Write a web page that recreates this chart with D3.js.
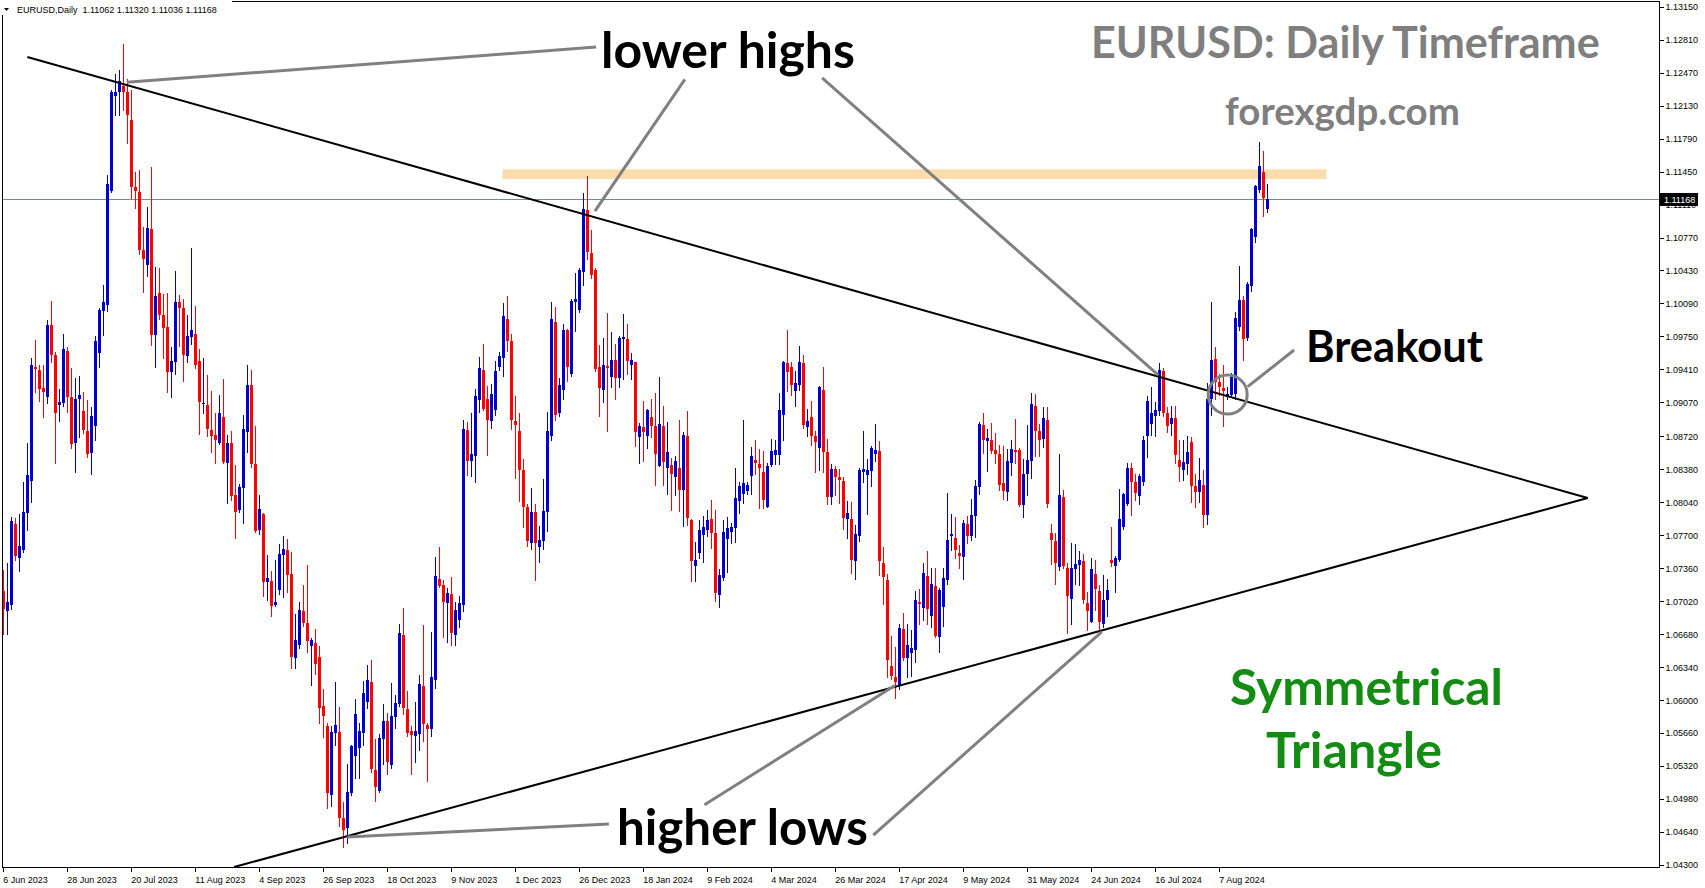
<!DOCTYPE html>
<html><head><meta charset="utf-8">
<script src="https://d3js.org/d3.v7.min.js"></script>
<style>html,body{margin:0;padding:0;background:#fff;overflow:hidden}</style>
</head><body>
<svg id="chart" width="1705" height="888"></svg>
<script>
// ---------------- DATA (EURUSD daily) ----------------
const opens = [
1.0713,1.0692,1.0698,1.0782,1.0747,1.0755,1.0793,1.0826,1.0944,1.0940,
1.0922,1.0913,1.0987,1.0956,1.0904,1.0906,1.0960,1.0913,1.0865,1.0911,
1.0898,1.0878,1.0855,1.0883,1.0958,1.1001,1.1007,1.1125,1.1223,1.1227,
1.1233,1.1227,1.1198,1.1129,1.1124,1.1064,1.1049,1.1086,1.0977,1.1020,
1.0997,1.0985,1.0938,1.0949,1.1011,1.1004,1.0955,1.0974,1.0978,1.0950,
1.0905,1.0904,1.0879,1.0873,1.0865,1.0892,1.0845,1.0865,1.0811,1.0796,
1.0819,1.0876,1.0925,1.0843,1.0775,1.0792,1.0722,1.0723,1.0698,1.0714,
1.0750,1.0755,1.0730,1.0643,1.0657,1.0692,1.0680,1.0656,1.0659,1.0644,
1.0594,1.0573,1.0502,1.0566,1.0567,1.0478,1.0468,1.0504,1.0542,1.0551,
1.0566,1.0598,1.0619,1.0528,1.0506,1.0560,1.0578,1.0533,1.0583,1.0596,
1.0667,1.0591,1.0568,1.0563,1.0565,1.0615,1.0574,1.0570,1.0621,1.0725,
1.0719,1.0700,1.0709,1.0667,1.0683,1.0698,1.0879,1.0847,1.0852,1.0909,
1.0940,1.0911,1.0888,1.0899,1.0943,1.0953,1.0993,1.0970,1.0888,1.0877,
1.0837,1.0799,1.0762,1.0794,1.0758,1.0764,1.0794,1.0872,1.0990,1.0896,
1.0920,1.0982,1.0936,1.1011,1.1002,1.1041,1.1105,1.1061,1.1044,1.0943,
1.0920,1.0945,1.0933,1.0951,1.0932,1.0972,1.0972,1.0946,1.0949,1.0871,
1.0882,1.0872,1.0892,1.0883,1.0841,1.0883,1.0839,1.0842,1.0830,1.0839,
1.0817,1.0872,1.0786,1.0738,1.0752,1.0770,1.0775,1.0787,1.0772,1.0708,
1.0726,1.0766,1.0773,1.0777,1.0805,1.0813,1.0816,1.0831,1.0848,1.0843,
1.0835,1.0799,1.0842,1.0853,1.0853,1.0894,1.0948,1.0944,1.0919,1.0925,
1.0948,1.0882,1.0892,1.0872,1.0860,1.0920,1.0856,1.0809,1.0838,1.0830,
1.0826,1.0787,1.0787,1.0743,1.0769,1.0835,1.0832,1.0836,1.0854,1.0857,
1.0741,1.0724,1.0635,1.0624,1.0616,1.0673,1.0643,1.0649,1.0652,1.0701,
1.0695,1.0728,1.0687,1.0718,1.0665,1.0696,1.0724,1.0769,1.0767,1.0752,
1.0748,1.0782,1.0769,1.0790,1.0820,1.0884,1.0867,1.0868,1.0858,1.0854,
1.0824,1.0815,1.0845,1.0858,1.0858,1.0801,1.0833,1.0847,1.0903,1.0878,
1.0869,1.0889,1.0772,1.0764,1.0737,1.0809,1.0736,1.0704,1.0735,1.0739,
1.0743,1.0700,1.0681,1.0730,1.0713,1.0678,1.0703,1.0745,1.0738,1.0745,
1.0778,1.0802,1.0839,1.0825,1.0810,1.0825,1.0872,1.0885,1.0893,1.0898,
1.0939,1.0896,1.0885,1.0891,1.0848,1.0837,1.0843,1.0866,1.0821,1.0815,
1.0822,1.0791,1.0911,1.0952,1.0928,1.0922,1.0914,1.0915,1.0916,1.0985,
1.1013,1.0973,1.1027,1.1078,1.1126,1.1145,1.11062];
const highs = [
1.0734,1.0741,1.0789,1.0788,1.0792,1.0825,1.0865,1.0953,1.0971,1.0946,
1.0946,1.0992,1.1012,1.0959,1.0921,1.0978,1.0964,1.0942,1.0932,1.0934,
1.0918,1.0909,1.0902,1.0975,1.1004,1.1028,1.1141,1.1229,1.1246,1.1250,
1.1277,1.1240,1.1229,1.1145,1.1147,1.1088,1.1108,1.1150,1.1047,1.1046,
1.1019,1.1020,1.0964,1.1042,1.1018,1.1014,1.0997,1.1066,1.1006,1.0962,
1.0953,1.0935,1.0919,1.0896,1.0915,1.0931,1.0873,1.0878,1.0842,1.0823,
1.0894,1.0946,1.0940,1.0883,1.0811,1.0793,1.0750,1.0733,1.0745,1.0761,
1.0769,1.0766,1.0753,1.0689,1.0701,1.0719,1.0739,1.0664,1.0673,1.0656,
1.0611,1.0576,1.0573,1.0619,1.0593,1.0495,1.0534,1.0554,1.0601,1.0576,
1.0620,1.0636,1.0641,1.0560,1.0565,1.0596,1.0587,1.0618,1.0605,1.0679,
1.0695,1.0609,1.0573,1.0598,1.0626,1.0677,1.0576,1.0670,1.0748,1.0758,
1.0724,1.0716,1.0727,1.0701,1.0707,1.0889,1.0887,1.0896,1.0921,1.0954,
1.0967,1.0924,1.0926,1.0950,1.0959,1.1009,1.1017,1.0978,1.0914,1.0896,
1.0849,1.0802,1.0819,1.0802,1.0780,1.0828,1.0897,1.1010,1.1005,1.0932,
1.0988,1.0983,1.1014,1.1040,1.1046,1.1123,1.1140,1.1085,1.1046,1.0966,
1.0973,1.0999,1.0980,1.0967,1.0975,1.0998,1.0988,1.0958,1.0949,1.0886,
1.0908,1.0900,1.0911,1.0917,1.0933,1.0903,1.0887,1.0850,1.0852,1.0889,
1.0876,1.0898,1.0787,1.0763,1.0786,1.0790,1.0796,1.0806,1.0796,1.0735,
1.0786,1.0789,1.0783,1.0839,1.0825,1.0889,1.0825,1.0861,1.0868,1.0859,
1.0857,1.0845,1.0869,1.0868,1.0917,1.0950,1.0982,1.0949,1.0939,1.0965,
1.0956,1.0900,1.0908,1.0878,1.0924,1.0943,1.0869,1.0843,1.0841,1.0838,
1.0830,1.0805,1.0804,1.0781,1.0839,1.0877,1.0849,1.0862,1.0885,1.0867,
1.0758,1.0730,1.0666,1.0655,1.0679,1.0690,1.0679,1.0672,1.0713,1.0715,
1.0741,1.0754,1.0736,1.0736,1.0716,1.0736,1.0814,1.0792,1.0789,1.0760,
1.0786,1.0790,1.0807,1.0827,1.0887,1.0896,1.0880,1.0886,1.0875,1.0863,
1.0862,1.0859,1.0868,1.0890,1.0860,1.0849,1.0884,1.0917,1.0916,1.0885,
1.0902,1.0902,1.0782,1.0772,1.0854,1.0817,1.0741,1.0762,1.0761,1.0754,
1.0751,1.0711,1.0747,1.0745,1.0719,1.0729,1.0725,1.0778,1.0749,1.0818,
1.0814,1.0845,1.0845,1.0833,1.0833,1.0872,1.0914,1.0923,1.0907,1.0948,
1.0942,1.0902,1.0903,1.0903,1.0868,1.0868,1.0872,1.0871,1.0833,1.0850,
1.0837,1.0927,1.1010,1.0964,1.0936,1.0946,1.0923,1.0937,1.1000,1.1048,
1.1017,1.1031,1.1087,1.1131,1.1175,1.1166,1.11320];
const lows = [
1.0668,1.0668,1.0694,1.0745,1.0733,1.0753,1.0775,1.0804,1.0918,1.0908,
1.0892,1.0906,1.0949,1.0845,1.0888,1.0903,1.0897,1.0860,1.0835,1.0871,
1.0875,1.0851,1.0833,1.0868,1.0944,1.0977,1.1001,1.1124,1.1203,1.1203,
1.1209,1.1174,1.1118,1.1107,1.1060,1.1021,1.1037,1.0966,1.0944,1.0993,
1.0953,1.0918,1.0913,1.0936,1.0965,1.0929,1.0949,1.0967,1.0942,1.0874,
1.0896,1.0872,1.0856,1.0845,1.0864,1.0844,1.0803,1.0806,1.0767,1.0794,
1.0783,1.0856,1.0840,1.0773,1.0771,1.0707,1.0703,1.0687,1.0697,1.0709,
1.0706,1.0712,1.0633,1.0633,1.0654,1.0676,1.0650,1.0616,1.0627,1.0576,
1.0562,1.0489,1.0491,1.0554,1.0470,1.0449,1.0453,1.0502,1.0520,1.0520,
1.0554,1.0592,1.0526,1.0496,1.0505,1.0534,1.0524,1.0530,1.0571,1.0594,
1.0586,1.0563,1.0524,1.0536,1.0549,1.0558,1.0517,1.0563,1.0613,1.0717,
1.0665,1.0660,1.0657,1.0657,1.0675,1.0692,1.0832,1.0831,1.0825,1.0897,
1.0899,1.0853,1.0881,1.0894,1.0940,1.0934,1.0960,1.0880,1.0829,1.0805,
1.0779,1.0759,1.0756,1.0724,1.0742,1.0756,1.0774,1.0868,1.0889,1.0893,
1.0911,1.0929,1.0934,1.0981,1.1000,1.1028,1.1055,1.1035,1.0939,1.0893,
1.0907,1.0877,1.0923,1.0911,1.0923,1.0931,1.0936,1.0931,1.0862,1.0845,
1.0847,1.0860,1.0871,1.0822,1.0841,1.0822,1.0813,1.0796,1.0811,1.0795,
1.0780,1.0781,1.0723,1.0723,1.0747,1.0742,1.0769,1.0757,1.0702,1.0696,
1.0724,1.0732,1.0762,1.0763,1.0793,1.0803,1.0813,1.0813,1.0833,1.0798,
1.0798,1.0799,1.0841,1.0843,1.0843,1.0868,1.0919,1.0915,1.0903,1.0920,
1.0881,1.0872,1.0863,1.0835,1.0837,1.0835,1.0802,1.0802,1.0811,1.0803,
1.0776,1.0767,1.0731,1.0725,1.0764,1.0825,1.0792,1.0821,1.0847,1.0729,
1.0699,1.0624,1.0622,1.0602,1.0611,1.0641,1.0624,1.0625,1.0639,1.0679,
1.0683,1.0679,1.0675,1.0665,1.0650,1.0676,1.0720,1.0755,1.0747,1.0736,
1.0725,1.0762,1.0765,1.0768,1.0813,1.0855,1.0836,1.0855,1.0844,1.0817,
1.0807,1.0806,1.0832,1.0844,1.0800,1.0789,1.0811,1.0829,1.0852,1.0852,
1.0861,1.0799,1.0740,1.0720,1.0734,1.0736,1.0669,1.0679,1.0720,1.0719,
1.0700,1.0672,1.0681,1.0693,1.0672,1.0675,1.0687,1.0738,1.0711,1.0743,
1.0776,1.0801,1.0791,1.0806,1.0802,1.0822,1.0851,1.0873,1.0872,1.0894,
1.0893,1.0876,1.0873,1.0844,1.0826,1.0827,1.0833,1.0804,1.0799,1.0804,
1.0778,1.0782,1.0894,1.0911,1.0915,1.0883,1.0910,1.0913,1.0911,1.0982,
1.0951,1.0971,1.1022,1.1072,1.1124,1.1099,1.11036];
const closes = [
1.0694,1.0701,1.0785,1.0749,1.0759,1.0794,1.0832,1.0946,1.0941,1.0921,
1.0918,1.0987,1.0956,1.0896,1.0907,1.0962,1.0913,1.0864,1.0911,1.0915,
1.0879,1.0854,1.0893,1.0970,1.1002,1.1010,1.1132,1.1227,1.1227,1.1238,
1.1227,1.1203,1.1129,1.1125,1.1064,1.1055,1.1087,1.0977,1.1017,1.0997,
1.0984,1.0938,1.0950,1.1011,1.1004,1.0956,1.0975,1.0982,1.0946,1.0907,
1.0906,1.0880,1.0872,1.0868,1.0896,1.0846,1.0865,1.0810,1.0794,1.0820,
1.0880,1.0925,1.0843,1.0774,1.0797,1.0722,1.0726,1.0697,1.0701,1.0751,
1.0756,1.0729,1.0644,1.0662,1.0693,1.0680,1.0661,1.0662,1.0637,1.0592,
1.0584,1.0504,1.0567,1.0574,1.0478,1.0466,1.0505,1.0553,1.0586,1.0568,
1.0607,1.0621,1.0529,1.0510,1.0561,1.0578,1.0536,1.0584,1.0597,1.0669,
1.0592,1.0566,1.0564,1.0568,1.0617,1.0575,1.0570,1.0624,1.0728,1.0718,
1.0701,1.0710,1.0669,1.0693,1.0700,1.0880,1.0847,1.0854,1.0914,1.0942,
1.0900,1.0889,1.0916,1.0939,1.0955,1.0996,1.0970,1.0889,1.0884,1.0837,
1.0799,1.0764,1.0794,1.0762,1.0765,1.0795,1.0877,1.0993,1.0894,1.0925,
1.0982,1.0943,1.1012,1.1014,1.1043,1.1106,1.1062,1.1038,1.0941,1.0922,
1.0946,1.0942,1.0951,1.0932,1.0973,1.0974,1.0950,1.0951,1.0876,1.0883,
1.0876,1.0899,1.0883,1.0854,1.0885,1.0846,1.0856,1.0833,1.0847,1.0817,
1.0873,1.0788,1.0743,1.0745,1.0775,1.0778,1.0786,1.0772,1.0710,1.0729,
1.0773,1.0777,1.0778,1.0808,1.0821,1.0824,1.0822,1.0852,1.0845,1.0839,
1.0806,1.0841,1.0857,1.0858,1.0899,1.0949,1.0938,1.0925,1.0927,1.0949,
1.0884,1.0888,1.0872,1.0866,1.0923,1.0856,1.0809,1.0838,1.0830,1.0827,
1.0788,1.0793,1.0744,1.0771,1.0837,1.0838,1.0837,1.0860,1.0858,1.0743,
1.0727,1.0641,1.0625,1.0619,1.0674,1.0643,1.0657,1.0654,1.0703,1.0699,
1.0731,1.0694,1.0720,1.0666,1.0714,1.0726,1.0765,1.0771,1.0755,1.0749,
1.0783,1.0769,1.0791,1.0821,1.0885,1.0868,1.0870,1.0857,1.0854,1.0822,
1.0816,1.0847,1.0859,1.0856,1.0801,1.0833,1.0848,1.0905,1.0878,1.0868,
1.0891,1.0802,1.0765,1.0741,1.0811,1.0738,1.0707,1.0736,1.0740,1.0745,
1.0703,1.0692,1.0735,1.0715,1.0681,1.0703,1.0714,1.0741,1.0747,1.0787,
1.0813,1.0839,1.0825,1.0814,1.0831,1.0868,1.0908,1.0896,1.0899,1.0940,
1.0896,1.0883,1.0891,1.0853,1.0840,1.0846,1.0856,1.0821,1.0815,1.0827,
1.0791,1.0911,1.0951,1.0928,1.0923,1.0919,1.0916,1.0933,1.0994,1.1013,
1.0972,1.1029,1.1086,1.1130,1.1151,1.1118,1.11168];

const xTickBars = [0,16,32,48,64,80,96,112,128,144,160,176,192,208,224,240,256,272,288,304];
const xTickLabels = ["6 Jun 2023","28 Jun 2023","20 Jul 2023","11 Aug 2023","4 Sep 2023","26 Sep 2023",
  "18 Oct 2023","9 Nov 2023","1 Dec 2023","26 Dec 2023","18 Jan 2024","9 Feb 2024","4 Mar 2024",
  "26 Mar 2024","17 Apr 2024","9 May 2024","31 May 2024","24 Jun 2024","16 Jul 2024","7 Aug 2024"];
const yTickLabels = ["1.04300","1.04640","1.04980","1.05320","1.05660","1.06000","1.06340","1.06680",
  "1.07020","1.07360","1.07700","1.08040","1.08380","1.08720","1.09070","1.09410","1.09750","1.10090",
  "1.10430","1.10770","1.11110","1.11450","1.11790","1.12130","1.12470","1.12810","1.13150"];
const headerText = "EURUSD,Daily  1.11062 1.11320 1.11036 1.11168";
const lastPrice = 1.11168;

// annotation geometry in data units: [bar index, price]
const upperTrend = [[6.0, 1.12632], [396.1, 1.08084]];
const lowerTrend = [[57.7, 1.04279], [396.1, 1.08084]];
const resistanceBand = {x0: 124.8, x1: 330.8, p0: 1.11473, p1: 1.11373};
const pointerLines = [
  [[148.2, 1.12734], [30.85, 1.12371]],
  [[170.4, 1.12400], [147.9, 1.11043]],
  [[204.7, 1.12415], [288.75, 1.09352]],
  [[151.4, 1.04723], [86.0, 1.04588]],
  [[175.3, 1.04922], [222.9, 1.06151]],
  [[217.5, 1.04609], [274.6, 1.06705]],
  [[311.1, 1.09232], [322.7, 1.09610]]
];
const breakoutCircle = [306.1, 1.09151];

// ---------------- LAYOUT ----------------
const W = 1705, H = 888;
const plot = {left: 2, top: 1, right: 1659, bottom: 867};
const svg = d3.select("#chart");
const x = d3.scaleLinear().domain([0, 414]).range([3.3, 3.3 + 4 * 414]);
const y = d3.scaleLinear().domain([1.043, 1.1315]).range([865.0, 6.7]);
const BULL = "#0000cd", BEAR = "#ff0000";

svg.append("rect").attr("width", W).attr("height", H).attr("fill", "#fff");
svg.append("defs").append("clipPath").attr("id", "clip")
  .append("rect").attr("x", plot.left).attr("y", plot.top)
  .attr("width", plot.right - plot.left).attr("height", plot.bottom - plot.top);

const g = svg.append("g").attr("clip-path", "url(#clip)");

// resistance band
g.append("rect")
  .attr("x", x(resistanceBand.x0)).attr("width", x(resistanceBand.x1) - x(resistanceBand.x0))
  .attr("y", y(resistanceBand.p0)).attr("height", y(resistanceBand.p1) - y(resistanceBand.p0))
  .attr("fill", "#fcdcab");

// last price line
g.append("line").attr("x1", plot.left).attr("x2", plot.right)
  .attr("y1", Math.round(y(lastPrice)) + 0.5).attr("y2", Math.round(y(lastPrice)) + 0.5)
  .attr("stroke", "#778899").attr("stroke-width", 1);

// candles
const bars = d3.range(opens.length).map(i => ({
  i, o: opens[i], h: Math.max(highs[i], opens[i], closes[i]),
  l: Math.min(lows[i], opens[i], closes[i]), c: closes[i]
}));
const cg = g.append("g").attr("shape-rendering", "crispEdges");
const candle = cg.selectAll("g.c").data(bars).join("g").attr("class", "c")
  .attr("fill", d => d.c >= d.o ? BULL : BEAR);
candle.append("rect")
  .attr("x", d => Math.round(x(d.i)))
  .attr("width", 1)
  .attr("y", d => Math.round(y(d.h)))
  .attr("height", d => Math.max(1, Math.round(y(d.l)) - Math.round(y(d.h)) + 1));
candle.append("rect")
  .attr("x", d => Math.round(x(d.i)) - 1)
  .attr("width", 3)
  .attr("y", d => Math.round(y(Math.max(d.o, d.c))))
  .attr("height", d => Math.max(1, Math.round(y(Math.min(d.o, d.c))) - Math.round(y(Math.max(d.o, d.c)))));

// trend lines
const line = d3.line().x(d => x(d[0])).y(d => y(d[1]));
[upperTrend, lowerTrend].forEach(t => g.append("path").attr("d", line(t))
  .attr("stroke", "#000").attr("stroke-width", 2).attr("fill", "none"));

// gray pointer lines and circle
pointerLines.forEach(p => g.append("path").attr("d", line(p))
  .attr("stroke", "#808080").attr("stroke-width", 3).attr("fill", "none"));
g.append("circle").attr("cx", x(breakoutCircle[0])).attr("cy", y(breakoutCircle[1])).attr("r", 19.5)
  .attr("stroke", "#808080").attr("stroke-width", 3).attr("fill", "none");

// frame
const frame = svg.append("g").attr("shape-rendering", "crispEdges").attr("stroke", "#000");
frame.append("line").attr("x1", plot.left + 0.5).attr("x2", plot.left + 0.5).attr("y1", plot.top).attr("y2", plot.bottom + 1);
frame.append("line").attr("x1", plot.left).attr("x2", plot.right + 1).attr("y1", plot.top + 0.5).attr("y2", plot.top + 0.5);
frame.append("line").attr("x1", plot.right + 0.5).attr("x2", plot.right + 0.5).attr("y1", plot.top).attr("y2", plot.bottom + 1);
frame.append("line").attr("x1", plot.left).attr("x2", plot.right + 1).attr("y1", plot.bottom + 0.5).attr("y2", plot.bottom + 0.5);

// axes
const axisFont = "'Liberation Sans', Arial, sans-serif";
const yAxis = d3.axisRight(y).tickValues(yTickLabels.map(Number))
  .tickFormat((d, i) => yTickLabels[i]).tickSize(4).tickPadding(2);
const ya = svg.append("g").attr("transform", `translate(${plot.right + 0.5},0)`).call(yAxis);
ya.select(".domain").remove();
ya.selectAll("line").attr("shape-rendering", "crispEdges");
ya.selectAll("text").attr("font-family", axisFont).attr("font-size", 9).attr("fill", "#000");

const xAxis = d3.axisBottom(x).tickValues(xTickBars).tickFormat((d, i) => xTickLabels[i])
  .tickSize(4).tickPadding(5);
const xa = svg.append("g").attr("transform", `translate(0,${plot.bottom + 0.5})`).call(xAxis);
xa.select(".domain").remove();
xa.selectAll("line").attr("shape-rendering", "crispEdges");
xa.selectAll("text").attr("font-family", axisFont).attr("font-size", 9).attr("fill", "#000")
  .attr("text-anchor", "start").attr("dx", -0.5);

// last price label
const ly = Math.round(y(lastPrice));
svg.append("rect").attr("x", plot.right + 1).attr("y", ly - 6).attr("width", 38).attr("height", 13).attr("fill", "#000");
svg.append("text").attr("x", plot.right + 5).attr("y", ly + 4).text(String(lastPrice.toFixed(5)))
  .attr("font-family", axisFont).attr("font-size", 9).attr("fill", "#fff");

// header
svg.append("rect").attr("x", 0).attr("y", 0).attr("width", 232).attr("height", 15).attr("fill", "#fff");
svg.append("path").attr("d", "M4,8 L9,8 L6.5,11 Z").attr("fill", "#000");
svg.append("text").attr("x", 17).attr("y", 13).text(headerText)
  .attr("font-family", axisFont).attr("font-size", 9).attr("fill", "#000").attr("xml:space", "preserve")
  .style("white-space", "pre");

// annotation texts, fitted to the widths measured on the picture
const annFont = "Lato, 'Open Sans', sans-serif";
function fitText(txt, x0, x1, baseline, color) {
  const t = svg.append("text").attr("x", x0).attr("y", baseline).text(txt)
    .attr("font-family", annFont).attr("font-weight", 700).attr("font-size", 40).attr("fill", color);
  const w = t.node().getComputedTextLength();
  t.attr("font-size", 40 * (x1 - x0) / w);
  return t;
}
fitText("lower highs", 601, 855, 68, "#000");
fitText("EURUSD: Daily Timeframe", 1091, 1600, 58, "#7f7f7f");
fitText("forexgdp.com", 1225, 1460, 125, "#7f7f7f");
fitText("Breakout", 1306, 1483, 362, "#000");
fitText("Symmetrical", 1230, 1503, 705, "#148c14");
fitText("Triangle", 1266, 1442, 768, "#148c14");
fitText("higher lows", 617, 868, 845, "#000");
</script>
</body></html>
